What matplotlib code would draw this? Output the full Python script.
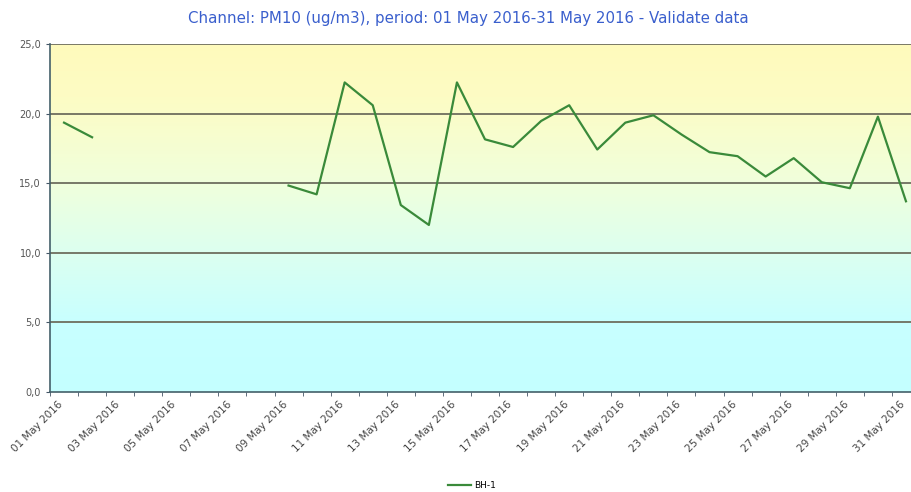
import matplotlib.pyplot as plt
import matplotlib.transforms as mtransforms
import numpy as np
from matplotlib.colors import LinearSegmentedColormap

days = [f"{d:02d} May 2016" for d in range(1, 32)]
pm10 = [19.35, 18.3, np.nan, np.nan, np.nan, np.nan, np.nan, np.nan,
        14.83, 14.2, 22.24, 20.6, 13.43, 12.0, 22.24, 18.15, 17.6, 19.47,
        20.6, 17.42, 19.35, 19.88, 18.5, 17.23, 16.94, 15.48, 16.8, 15.07,
        14.64, 19.78, 13.7]
yticks = [0, 5, 10, 15, 20, 25]
series_name = "BH-1"
title = "Channel: PM10 (ug/m3), period: 01 May 2016-31 May 2016 - Validate data"

fig = plt.figure(figsize=(9.11, 4.92), dpi=100)
ax = fig.add_axes([50 / 911, 100 / 492, 870 / 911, 348 / 492])

# gradient background: yellow at top, cyan at bottom
cmap = LinearSegmentedColormap.from_list(
    "bg", [(0.0, "#c4ffff"), (0.2, "#c8ffff"), (0.4, "#dcfff0"),
           (0.6, "#f0ffdc"), (0.85, "#fdfcc4"), (1.0, "#fffabc")])
grad = np.linspace(0, 1, 256).reshape(-1, 1)
ax.imshow(grad, aspect="auto", cmap=cmap, origin="lower",
          extent=[-0.5, 30.5, 0, 25], zorder=0)

x = np.arange(len(days))
ax.plot(x, pm10, color="#3a8a3a", lw=1.6, label=series_name, zorder=3)

ax.set_xlim(-0.5, 30.5)
ax.set_ylim(0, 25)
for v in yticks[1:]:
    ax.axhline(v, color="#6e6e5e", lw=1.3, zorder=2)

ax.set_yticks(yticks)
ax.set_yticklabels([f"{v:.1f}".replace(".", ",") for v in yticks],
                   fontsize=7, color="#555555")
ax.tick_params(axis="y", length=3, color="#445566")

ax.set_xticks(x[::2])
ax.set_xticklabels(days[::2], rotation=45, ha="right", rotation_mode="anchor",
                   fontsize=7.5, color="#444444")
ax.set_xticks(np.arange(-0.5, 31, 1), minor=True)
ax.tick_params(axis="x", which="major", length=0, pad=5)
ax.tick_params(axis="x", which="minor", length=3, color="#445566")
shift = mtransforms.ScaledTranslation(-6 / 100, 0, fig.dpi_scale_trans)
for lab in ax.get_xticklabels():
    lab.set_transform(lab.get_transform() + shift)

for s in ["top", "right"]:
    ax.spines[s].set_visible(False)
ax.spines["left"].set_color("#44606a")
ax.spines["bottom"].set_color("#44606a")
ax.spines["left"].set_linewidth(1.2)
ax.spines["bottom"].set_linewidth(1.2)

fig.text(468 / 911, 1 - 18 / 492, title, color="#3a5fcd", fontsize=10.8,
         ha="center", va="center")
fig.legend(loc="center", bbox_to_anchor=(472 / 911, 1 - 486 / 492),
           frameon=False, fontsize=6.5, handlelength=2.5, handletextpad=0.3)

fig.savefig("out.png", dpi=100)
